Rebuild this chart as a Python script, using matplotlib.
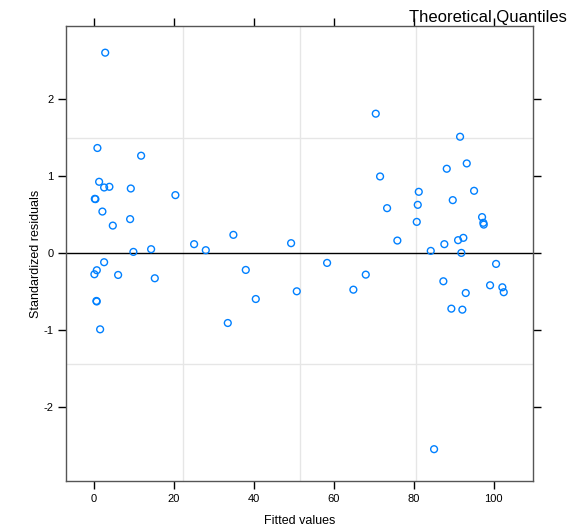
import matplotlib
matplotlib.use("Agg")
import matplotlib.pyplot as plt

# fitted values and standardized residuals
fitted = [0.95, 11.88, 1.38, 2.63, 3.95, 9.30, 0.30, 0.45, 20.45, 2.20,
          9.13, 4.80, 9.95, 14.38, 2.63, 0.80, 0.20, 6.13, 15.30, 0.70,
          0.78, 1.63, 2.90, 25.13, 28.05, 34.95, 49.38, 38.05, 40.55, 33.55,
          50.80, 58.38, 68.05, 64.95, 70.55, 91.63, 93.30, 88.30, 71.63, 81.30,
          95.13, 81.05, 89.80, 73.38, 97.13, 97.45, 97.55, 80.80, 75.95, 91.13,
          92.45, 87.70, 84.30, 91.95, 100.63, 87.45, 99.13, 102.20, 102.55, 93.05,
          89.45, 92.20, 85.13]
std_resid = [1.364, 1.264, 0.926, 0.852, 0.861, 0.839, 0.705, 0.701, 0.753, 0.540,
             0.442, 0.358, 0.017, 0.052, -0.117, -0.221, -0.273, -0.282, -0.325, -0.619,
             -0.626, -0.987, 2.60, 0.117, 0.039, 0.238, 0.130, -0.217, -0.594, -0.905,
             -0.494, -0.126, -0.278, -0.473, 1.809, 1.510, 1.164, 1.095, 0.995, 0.796,
             0.809, 0.627, 0.688, 0.584, 0.468, 0.394, 0.371, 0.406, 0.164, 0.169,
             0.199, 0.117, 0.030, 0.004, -0.139, -0.364, -0.416, -0.442, -0.506, -0.516,
             -0.719, -0.732, -2.541]

x_ticks = [0, 20, 40, 60, 80, 100]
y_ticks = [-2, -1, 0, 1, 2]
x_ref = [22.3, 51.6, 80.6]
y_ref = [-1.44, 1.49]

plt.rcParams["font.family"] = ["Liberation Sans", "DejaVu Sans"]
plt.rcParams["axes.unicode_minus"] = False

fig = plt.figure(figsize=(5.71, 5.29), dpi=100)
ax = fig.add_axes([0.1156, 0.0898, 0.8174, 0.8602])

for xv in x_ref:
    ax.axvline(xv, color="#e6e6e6", lw=1, zorder=0)
for yv in y_ref:
    ax.axhline(yv, color="#e6e6e6", lw=1, zorder=0)
ax.axhline(0, color="black", lw=1, zorder=1)

ax.scatter(fitted, std_resid, s=24, facecolors="none", edgecolors="#0080ff",
           linewidths=1, zorder=2)

ax.set_xlim(-6.9, 109.8)
ax.set_ylim(-2.96, 2.94)
ax.set_xticks(x_ticks)
ax.set_yticks(y_ticks)
ax.tick_params(direction="out", length=6, width=1, labelsize=8, pad=3,
               top=True, right=True, labeltop=False, labelright=False)
for sp in ax.spines.values():
    sp.set_color("#555555")
    sp.set_linewidth(1)

ax.set_xlabel("Fitted values", fontsize=9, labelpad=8)
ax.set_ylabel("Standardized residuals", fontsize=9, labelpad=1)
fig.text(0.993, 0.967, "Theoretical Quantiles", fontsize=12,
         ha="right", va="center")

fig.savefig("out.png", dpi=100)
